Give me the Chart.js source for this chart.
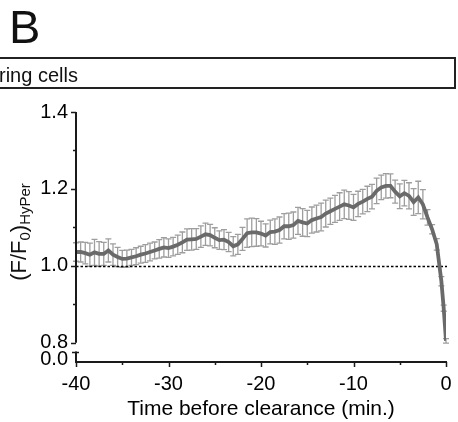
<!DOCTYPE html>
<html>
<head>
<meta charset="utf-8">
<script src="https://cdn.jsdelivr.net/npm/chart.js@4/dist/chart.umd.min.js"></script>
<style>
    html, body { margin: 0; padding: 0; background: #fff; }
    body { width: 458px; height: 422px; position: relative; overflow: hidden; font-family: "Liberation Sans", Arial, sans-serif; color: #111; }
    #chart { position: absolute; left: 0; top: 0; }
    #panel-letter { position: absolute; left: 9px; top: 0px; font-size: 47px; line-height: 54px; }
    #panel-box { position: absolute; left: -10px; top: 57px; width: 466px; height: 32px; box-sizing: border-box; border: 2px solid #222; }
    #panel-text { position: absolute; left: -1px; top: 65px; font-size: 20px; line-height: 20px; white-space: nowrap; }
    #y-title { position: absolute; left: 22px; top: 232px; font-size: 22px; line-height: 22px; white-space: nowrap;
               transform: translate(-50%, -50%) rotate(-90deg); }
    #y-title sub { font-size: 15px; vertical-align: -4px; }
</style>
</head>
<body>
<canvas id="chart" width="458" height="422"></canvas>
<div id="panel-letter">B</div>
<div id="panel-box"></div>
<div id="panel-text">ring cells</div>
<div id="y-title">(F/F<sub>0</sub>)<sub>HyPer</sub></div>
<script>
/* HyPer ratio before clearance — mean trace with error bars */
(function () {
    "use strict";

    var timeMin = [
        -40, -39.5, -39, -38.5, -38, -37.5, -37, -36.5, -36, -35.5,
        -35, -34.5, -34, -33.5, -33, -32.5, -32, -31.5, -31, -30.5,
        -30, -29.5, -29, -28.5, -28, -27.5, -27, -26.5, -26, -25.5,
        -25, -24.5, -24, -23.5, -23, -22.5, -22, -21.5, -21, -20.5,
        -20, -19.5, -19, -18.5, -18, -17.5, -17, -16.5, -16, -15.5,
        -15, -14.5, -14, -13.5, -13, -12.5, -12, -11.5, -11, -10.5,
        -10, -9.5, -9, -8.5, -8, -7.5, -7, -6.5, -6, -5.5,
        -5, -4.5, -4, -3.5, -3, -2.5, -2, -1.5, -1, -0.5,
        -0.25, 0
    ];
    var ratioMean = [
        1.036, 1.036, 1.033, 1.029, 1.035, 1.031, 1.031, 1.040, 1.029, 1.023,
        1.018, 1.019, 1.022, 1.025, 1.029, 1.032, 1.036, 1.040, 1.044, 1.048,
        1.046, 1.050, 1.055, 1.061, 1.068, 1.069, 1.070, 1.076, 1.082, 1.080,
        1.073, 1.067, 1.068, 1.062, 1.051, 1.056, 1.070, 1.085, 1.087, 1.087,
        1.084, 1.079, 1.088, 1.089, 1.093, 1.103, 1.103, 1.106, 1.117, 1.113,
        1.110, 1.119, 1.123, 1.127, 1.136, 1.142, 1.148, 1.154, 1.160, 1.157,
        1.152, 1.161, 1.167, 1.174, 1.180, 1.195, 1.204, 1.208, 1.208, 1.193,
        1.181, 1.189, 1.182, 1.166, 1.178, 1.160, 1.126, 1.095, 1.056, 0.960,
        0.890, 0.805
    ];
    var ratioErr = [
        0.024, 0.026, 0.028, 0.030, 0.034, 0.032, 0.030, 0.030, 0.028, 0.025,
        0.022, 0.022, 0.021, 0.022, 0.022, 0.023, 0.023, 0.022, 0.024, 0.025,
        0.024, 0.024, 0.025, 0.027, 0.028, 0.028, 0.027, 0.028, 0.029, 0.028,
        0.026, 0.024, 0.026, 0.025, 0.025, 0.026, 0.030, 0.037, 0.037, 0.036,
        0.032, 0.030, 0.031, 0.033, 0.034, 0.033, 0.034, 0.034, 0.035, 0.036,
        0.034, 0.034, 0.035, 0.036, 0.035, 0.034, 0.035, 0.036, 0.037, 0.036,
        0.034, 0.033, 0.032, 0.033, 0.032, 0.033, 0.032, 0.032, 0.031, 0.030,
        0.032, 0.033, 0.034, 0.035, 0.042, 0.038, 0.020, 0.012, 0.015, 0.012,
        0.008, 0.006
    ];

    var xTickVals = [-40, -35, -30, -25, -20, -15, -10, -5, 0];
    var xTickLabels = ["-40", "", "-30", "", "-20", "", "-10", "", "0"];
    var yTickVals = [0.757, 0.8, 0.9, 1.0, 1.1, 1.2, 1.3, 1.4];
    var yTickLabels = ["0.0", "0.8", "", "1.0", "", "1.2", "", "1.4"];
    var baseline = 1.0;
    var yBreakTop = 0.777;

    var FONT = "'Liberation Sans', Arial, sans-serif";
    var INK = "#1a1a1a";

    var points = timeMin.map(function (t, i) { return { x: t, y: ratioMean[i] }; });

    /* Error bars, dotted baseline and the broken axes */
    var decorPlugin = {
        id: "decor",
        beforeDatasetsDraw: function (chart) {
            var ctx = chart.ctx;
            var xs = chart.scales.x, ys = chart.scales.y;
            ctx.save();
            ctx.strokeStyle = "#9e9e9e";
            ctx.lineWidth = 1.3;
            timeMin.forEach(function (t, i) {
                var px = xs.getPixelForValue(t);
                var top = ys.getPixelForValue(ratioMean[i] + ratioErr[i]);
                var bot = ys.getPixelForValue(ratioMean[i] - ratioErr[i]);
                ctx.beginPath();
                ctx.moveTo(px, top); ctx.lineTo(px, bot);
                ctx.moveTo(px - 3, top); ctx.lineTo(px + 3, top);
                ctx.moveTo(px - 3, bot); ctx.lineTo(px + 3, bot);
                ctx.stroke();
            });
            /* dotted line at 1.0 */
            var by = Math.round(ys.getPixelForValue(baseline)) + 0.5;
            ctx.strokeStyle = "#000";
            ctx.lineWidth = 1.6;
            ctx.setLineDash([2.5, 2]);
            ctx.beginPath();
            ctx.moveTo(xs.getPixelForValue(-40), by);
            ctx.lineTo(xs.getPixelForValue(0) + 1, by);
            ctx.stroke();
            ctx.restore();
        },
        afterDraw: function (chart) {
            var ctx = chart.ctx;
            var xs = chart.scales.x, ys = chart.scales.y;
            var ax = xs.getPixelForValue(-40);
            var ay = ys.bottom;
            ctx.save();
            ctx.strokeStyle = INK;
            ctx.lineWidth = 2;
            ctx.beginPath();
            /* y axis main segment 0.8 - 1.4 */
            ctx.moveTo(ax, ys.getPixelForValue(1.4));
            ctx.lineTo(ax, ys.getPixelForValue(0.8));
            /* short segment below the break */
            ctx.moveTo(ax, ys.getPixelForValue(yBreakTop));
            ctx.lineTo(ax, ay);
            /* x axis */
            ctx.moveTo(ax - 1, ay);
            ctx.lineTo(xs.getPixelForValue(0) + 1, ay);
            ctx.stroke();

            ctx.lineWidth = 1.5;
            ctx.beginPath();
            yTickVals.forEach(function (v, i) {
                if (i === 0) return;
                var py = Math.round(ys.getPixelForValue(v)) + 0.5;
                var len = yTickLabels[i] ? 5 : 3;
                ctx.moveTo(ax - len, py); ctx.lineTo(ax, py);
            });
            var bk = Math.round(ys.getPixelForValue(yBreakTop)) + 0.5;
            ctx.moveTo(ax - 4, bk); ctx.lineTo(ax + 3, bk);
            xTickVals.forEach(function (v, i) {
                var px = Math.round(xs.getPixelForValue(v)) + 0.5;
                var len = xTickLabels[i] ? 5 : 3;
                ctx.moveTo(px, ay); ctx.lineTo(px, ay + len);
            });
            ctx.stroke();
            ctx.restore();
        }
    };

    new Chart(document.getElementById("chart").getContext("2d"), {
        type: "line",
        data: {
            datasets: [{
                label: "(F/F0) HyPer",
                data: points,
                borderColor: "#6a6a6a",
                borderWidth: 3.8,
                pointRadius: 0,
                tension: 0,
                fill: false
            }]
        },
        options: {
            responsive: false,
            animation: false,
            layout: { padding: { left: 0, right: 12, top: 112, bottom: 0 } },
            plugins: { legend: { display: false }, tooltip: { enabled: false } },
            scales: {
                x: {
                    type: "linear",
                    min: -40,
                    max: 0,
                    grid: { display: false, drawTicks: false },
                    border: { display: false },
                    afterBuildTicks: function (s) { s.ticks = xTickVals.map(function (v) { return { value: v }; }); },
                    afterFit: function (s) {
                        s.height = 60;
                        s.paddingLeft = 0;
                        s.paddingRight = 0;
                    },
                    ticks: {
                        autoSkip: false,
                        maxRotation: 0,
                        padding: 10,
                        color: "#000",
                        font: { family: FONT, size: 20 },
                        callback: function (v, i) { return xTickLabels[i]; }
                    },
                    title: {
                        display: true,
                        text: "Time before clearance (min.)",
                        color: "#000",
                        font: { family: FONT, size: 21 },
                        padding: { top: 0, bottom: 0 }
                    }
                },
                y: {
                    type: "linear",
                    min: 0.75,
                    max: 1.4,
                    grid: { display: false, drawTicks: false },
                    border: { display: false },
                    afterBuildTicks: function (s) { s.ticks = yTickVals.map(function (v) { return { value: v }; }); },
                    afterFit: function (s) { s.width = 76; },
                    ticks: {
                        autoSkip: false,
                        padding: 8,
                        color: "#000",
                        font: { family: FONT, size: 20 },
                        callback: function (v, i) { return yTickLabels[i]; }
                    }
                }
            }
        },
        plugins: [decorPlugin]
    });
})();
</script>
</body>
</html>
